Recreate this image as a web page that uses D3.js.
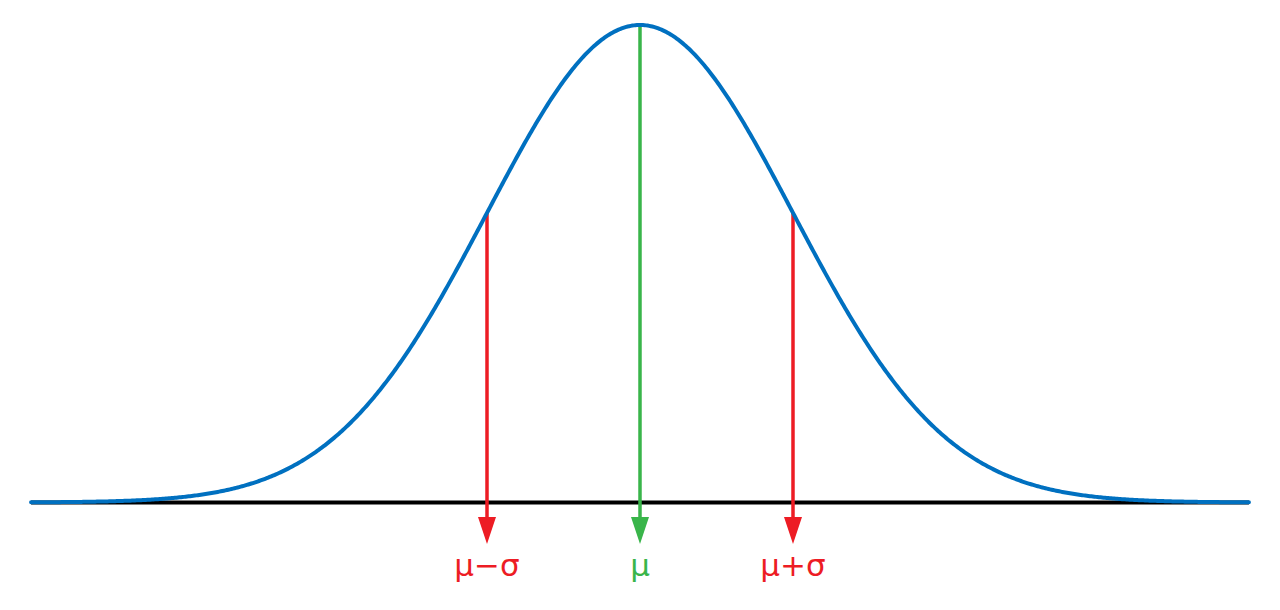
<!DOCTYPE html>
<html><head><meta charset="utf-8">
<script src="https://cdn.jsdelivr.net/npm/d3@7"></script>
<style>body{margin:0;background:#fff}svg{display:block}</style>
</head><body>
<svg id="c" width="1280" height="610"></svg>
<script>
const mu = 0, sigma = 1;
const xExtent = [-3.98, 3.98];
const markers = [
  {label: "μ−σ", value: -1, color: "#ED1C24"},
  {label: "μ", value: 0, color: "#39B54A"},
  {label: "μ+σ", value: 1, color: "#ED1C24"}
];
const pdf = x => Math.exp(-0.5 * ((x - mu) / sigma) ** 2) / (sigma * Math.sqrt(2 * Math.PI));
const xs = d3.range(xExtent[0], xExtent[1] + 1e-9, 0.01);

const svg = d3.select("#c");
const x = d3.scaleLinear().domain([-4, 4]).range([28, 1252]);
const y = d3.scaleLinear().domain([0, pdf(mu)]).range([502.5, 25]);

// baseline
svg.append("line").attr("x1", x(xExtent[0])).attr("x2", x(xExtent[1]))
  .attr("y1", y(0)).attr("y2", y(0)).attr("stroke", "#000").attr("stroke-width", 4);

// markers
markers.forEach(m => {
  const cx = x(m.value);
  svg.append("line").attr("x1", cx).attr("x2", cx)
    .attr("y1", y(pdf(m.value))).attr("y2", 518)
    .attr("stroke", m.color).attr("stroke-width", 3.5);
  svg.append("path").attr("d", `M${cx-9},517 L${cx+9},517 L${cx},544 Z`).attr("fill", m.color);
  svg.append("text").attr("x", cx).attr("y", 576).attr("text-anchor", "middle")
    .attr("font-family", "DejaVu Sans, Verdana, sans-serif").attr("font-size", 31)
    .attr("fill", m.color).text(m.label);
});

// curve
const line = d3.line().x(d => x(d)).y(d => y(pdf(d)));
svg.append("path").datum(xs).attr("d", line).attr("fill", "none")
  .attr("stroke", "#0070C0").attr("stroke-width", 4).attr("stroke-linecap", "round");
</script>
</body></html>
